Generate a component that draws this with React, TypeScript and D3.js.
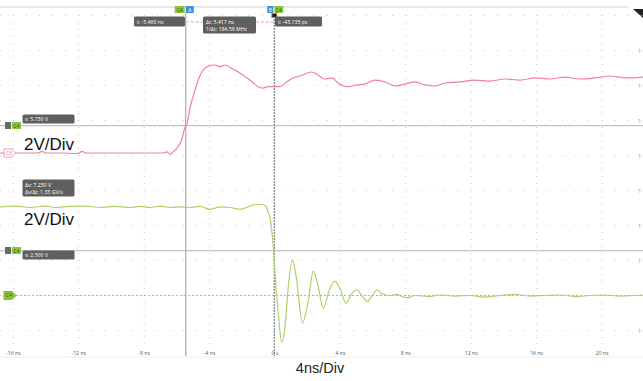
import React from "react";
import * as d3 from "d3";

// ---- Data (time in ns, voltage in V) ----
const c3Time = [-16.82,-15.6,-14.5,-14.25,-14.01,-13.15,-12.05,-11.8,-11.56,-9.48,-7.65,-6.85,-6.61,-6.42,-6.24,-6.01,-5.71,-5.5,-5.4,-5.2,-4.89,-4.65,-4.4,-3.98,-3.67,-3.36,-3.06,-2.57,-1.96,-1.41,-1.04,-0.73,-0.43,0.31,0.73,1.1,1.53,2.26,2.63,3.06,3.49,3.85,4.46,5.02,5.5,6.12,6.73,7.34,7.95,8.56,9.17,9.79,10.4,11.31,12.23,13.15,14.07,14.98,15.9,16.82,17.74,18.65,19.57,20.49,21.41,22.51];
const c3Volts = [0,0,0,0.09,0,0,-0.03,0.09,0,0,0,0,0.06,-0.07,0.06,0.27,0.74,1.49,1.6,2.57,3.6,4.29,4.74,4.99,5.03,4.93,5.03,4.8,4.46,4.07,3.79,3.71,3.79,3.79,4.07,4.29,4.4,4.63,4.46,4.23,4.29,4.0,3.79,3.89,3.94,4.17,4.06,3.83,3.94,4.06,3.89,3.83,4.0,4.06,4.17,4.11,4.23,4.17,4.29,4.23,4.34,4.23,4.29,4.4,4.29,4.34];

const c4Time = [-16.82,-15.9,-14.98,-14.07,-13.46,-12.54,-11.62,-10.7,-9.79,-8.87,-8.26,-7.65,-7.03,-6.42,-5.81,-5.2,-4.59,-3.98,-3.36,-2.75,-2.14,-1.53,-1.16,-0.81,-0.61,-0.51,-0.43,-0.31,-0.2,-0.1,0,0.2,0.41,0.61,0.81,1.06,1.33,1.67,2.04,2.34,2.65,2.95,3.32,3.67,4.02,4.34,4.69,5.0,5.3,5.65,5.95,6.26,6.53,7.03,7.44,8.06,8.56,9.48,10.09,11.01,11.93,12.84,13.76,14.68,15.6,16.51,17.43,18.35,19.27,20.18,21.1,22.51];
const c4Volts = [5.06,5.11,5.03,5.11,5.03,5.09,5.11,5.03,5.09,5.03,5.09,5.03,5.11,5.03,5.06,5.03,5.09,4.92,5.06,5.03,4.92,5.11,5.2,5.2,5.14,5.05,4.76,4.47,3.71,2.76,1.26,-1.03,-2.67,-1.81,0.47,2.04,0.86,-1.58,-0.29,1.39,0.47,-0.73,0.29,0.82,0.29,-0.44,0.1,0.33,0,-0.33,0,0.33,0.1,0,0.06,-0.13,0,-0.06,0.03,-0.03,0,-0.09,0,0.06,-0.03,0,0.03,-0.06,0,0.03,-0.03,0.03];

const tickValues = [-16,-12,-8,-4,0,4,8,12,16,20];
const tickLabels = ["-16 ns","-12 ns","-8 ns","-4 ns","0 s","4 ns","8 ns","12 ns","16 ns","20 ns"];
const gridVolts = [-2,0,2,4,6,8,10,12,14,16];

const cursorA = -5.46;
const cursorB = -0.043135;
const cursorV1 = 9.71; // position on C4 scale
const cursorV2 = 2.57;

const W = 643, H = 381;

export default function App() {
  const x = d3.scaleLinear().domain([-16, 20]).range([13.4, 602]);
  const yC4 = d3.scaleLinear().domain([0, 2]).range([295.5, 260.5]);
  const yC3 = d3.scaleLinear().domain([0, 2]).range([153, 118]);

  const lineC3 = d3.line<number>().x((_, i) => x(c3Time[i])).y((v) => yC3(v)).curve(d3.curveMonotoneX);
  const lineC4 = d3.line<number>().x((_, i) => x(c4Time[i])).y((v) => yC4(v)).curve(d3.curveMonotoneX);

  const gridColor = "#c9c9c9";
  const dots: JSX.Element[] = [];
  // dots along vertical major lines
  const vMinor = d3.range(-2.4, 17.6, 0.4);
  tickValues.forEach((t, i) => {
    vMinor.forEach((v, j) => {
      const yy = yC4(v);
      if (yy > 9 && yy < 344) dots.push(<rect key={`v${i}-${j}`} x={x(t) - 0.5} y={yy - 0.5} width={1} height={1} fill={gridColor} />);
    });
  });
  const tMinor = d3.range(-16.8, 22.6, 0.8);
  gridVolts.forEach((v, i) => {
    tMinor.forEach((t, j) => {
      const xx = x(t);
      if (xx >= 0 && xx <= W) dots.push(<rect key={`h${i}-${j}`} x={xx - 0.5} y={yC4(v) - 0.5} width={1} height={1} fill={gridColor} />);
    });
  });

  const font = "'Open Sans', 'DejaVu Sans', sans-serif";
  const green = "#8cc63e";
  const blue = "#3d8fd6";
  const boxFill = "#5f5f5f";

  const xa = x(cursorA);
  const xb = x(cursorB);
  const yv1 = yC4(cursorV1);
  const yv2 = yC4(cursorV2);

  return (
    <svg width={W} height={H} style={{ position: "absolute", left: 0, top: 0, background: "#fff" }}>
      <rect x={0} y={0} width={W} height={H} fill="#fff" />
      {/* top border */}
      <line x1={0} x2={628} y1={7} y2={7} stroke="#d4d4d4" strokeWidth={1} />
      <polygon points="633,9 643,9 643,18" fill="#222" />
      {dots}
      {/* right edge labels */}
      {gridVolts.filter((v) => v !== 0 && v !== 16).map((v) => (
        <text key={`r${v}`} x={638} y={yC4(v) + 2} fontSize={5} fill="#7aa82e" fontFamily={font}>1</text>
      ))}
      {/* horizontal cursor lines */}
      <line x1={0} x2={W} y1={yv1} y2={yv1} stroke="#c4c4c4" strokeWidth={1.2} />
      <line x1={0} x2={W} y1={yv2} y2={yv2} stroke="#c4c4c4" strokeWidth={1.2} />
      {/* vertical cursor lines */}
      <line x1={xa} x2={xa} y1={13} y2={356} stroke="#b0b0b0" strokeWidth={1.3} />
      <line x1={xb} x2={xb} y1={13} y2={356} stroke="#8a8a8a" strokeWidth={1.3} strokeDasharray="2,1" />
      {/* ground dashed line for C4 */}
      <line x1={16} x2={W} y1={yC4(0)} y2={yC4(0)} stroke="#9aa88a" strokeWidth={0.8} strokeDasharray="2,2" />
      {/* traces */}
      <path d={lineC3(c3Volts) || ""} fill="none" stroke="#f0829a" strokeWidth={1.2} />
      <path d={lineC4(c4Volts) || ""} fill="none" stroke="#acd26a" strokeWidth={1.2} />
      {/* pink dashed between cursor labels */}
      <line x1={xa} x2={xb} y1={22} y2={22} stroke="#f49aa8" strokeWidth={1} strokeDasharray="3,2" />
      {/* top cursor markers */}
      <rect x={xa - 11} y={6} width={10} height={7} fill={green} />
      <text x={xa - 6} y={11.5} fontSize={5} textAnchor="middle" fill="#2d4a10" fontFamily={font}>C4</text>
      <rect x={xa} y={6} width={8} height={7} fill={blue} />
      <text x={xa + 4} y={11.5} fontSize={5} textAnchor="middle" fill="#fff" fontFamily={font}>A</text>
      <rect x={xb - 7} y={6} width={6} height={7} fill={blue} />
      <text x={xb - 4} y={11.5} fontSize={5} textAnchor="middle" fill="#fff" fontFamily={font}>B</text>
      <rect x={xb} y={6} width={9} height={7} fill={green} />
      <text x={xb + 4.5} y={11.5} fontSize={5} textAnchor="middle" fill="#2d4a10" fontFamily={font}>C4</text>
      <rect x={xb - 3} y={13} width={6} height={5} fill="#d97a1a" />
      <rect x={xb - 2} y={14} width={4} height={3} fill="#222" />
      {/* cursor readout boxes */}
      <rect x={134} y={16.5} width={51} height={10} rx={1.5} fill={boxFill} />
      <text x={137} y={23.5} fontSize={5.2} fill="#fff" fontFamily={font}>t: -5.460 ns</text>
      <rect x={203} y={16.5} width={53} height={17} rx={1.5} fill={boxFill} />
      <text x={206} y={23.5} fontSize={5.2} fill="#fff" fontFamily={font}>Δt: 5.417 ns</text>
      <text x={206} y={31} fontSize={5.2} fill="#fff" fontFamily={font}>1/Δt: 184.59 MHz</text>
      <rect x={275} y={16.5} width={47} height={10} rx={1.5} fill={boxFill} />
      <text x={278} y={23.5} fontSize={5.2} fill="#fff" fontFamily={font}>t: -43.135 ps</text>
      {/* left cursor readouts */}
      <rect x={22.5} y={114.5} width={52} height={9} rx={1.5} fill={boxFill} />
      <text x={25} y={121} fontSize={5.2} fill="#fff" fontFamily={font}>v: 5.730 V</text>
      <rect x={5} y={122} width={6} height={7} fill="#6a6a6a" />
      <rect x={12} y={122} width={9} height={7} fill={green} />
      <text x={16.5} y={127.5} fontSize={4.8} textAnchor="middle" fill="#2d4a10" fontFamily={font}>C4</text>

      <rect x={22.5} y={179.5} width={52} height={17} rx={1.5} fill={boxFill} />
      <text x={25} y={186.5} fontSize={5.2} fill="#fff" fontFamily={font}>Δv: 7.230 V</text>
      <text x={25} y={194} fontSize={5.2} fill="#fff" fontFamily={font}>Δv/Δt: 1.33 GV/s</text>

      <rect x={22.5} y={250.5} width={52} height={9} rx={1.5} fill={boxFill} />
      <text x={25} y={257} fontSize={5.2} fill="#fff" fontFamily={font}>v: 2.500 V</text>
      <rect x={5} y={247} width={6} height={7} fill="#6a6a6a" />
      <rect x={12} y={247} width={9} height={7} fill={green} />
      <text x={16.5} y={252.5} fontSize={4.8} textAnchor="middle" fill="#2d4a10" fontFamily={font}>C4</text>

      {/* channel ground markers */}
      <path d={`M4,${yC3(0) - 4} L12,${yC3(0) - 4} L16,${yC3(0)} L12,${yC3(0) + 4} L4,${yC3(0) + 4} Z`} fill="#fff" stroke="#f0829a" strokeWidth={0.8} />
      <text x={9} y={yC3(0) + 1.8} fontSize={4.8} textAnchor="middle" fill="#e0607a" fontFamily={font}>C3</text>
      <path d={`M4,${yC4(0) - 4} L12,${yC4(0) - 4} L16,${yC4(0)} L12,${yC4(0) + 4} L4,${yC4(0) + 4} Z`} fill="#8cc63e" stroke="#6fa82a" strokeWidth={0.8} />
      <text x={9} y={yC4(0) + 1.8} fontSize={4.8} textAnchor="middle" fill="#2d4a10" fontFamily={font}>C4</text>

      {/* x axis labels */}
      {tickValues.map((t, i) => (
        <g key={`t${t}`}>
          <rect x={x(t) - 0.5} y={343} width={1} height={1} fill={gridColor} />
          <text x={x(t)} y={355} fontSize={5.2} textAnchor="middle" fill="#555" fontFamily={font}>{tickLabels[i]}</text>
        </g>
      ))}
      <line x1={0} x2={W} y1={357} y2={357} stroke="#eeeeee" strokeWidth={1} />

      {/* annotations */}
      <text x={24} y={150} fontSize={17} fill="#111" fontFamily="'Liberation Sans', Arial, sans-serif">2V/Div</text>
      <text x={24} y={225} fontSize={17} fill="#111" fontFamily="'Liberation Sans', Arial, sans-serif">2V/Div</text>
      <text x={320} y={373} fontSize={14.5} textAnchor="middle" fill="#222" fontFamily="'Liberation Sans', Arial, sans-serif">4ns/Div</text>
    </svg>
  );
}
